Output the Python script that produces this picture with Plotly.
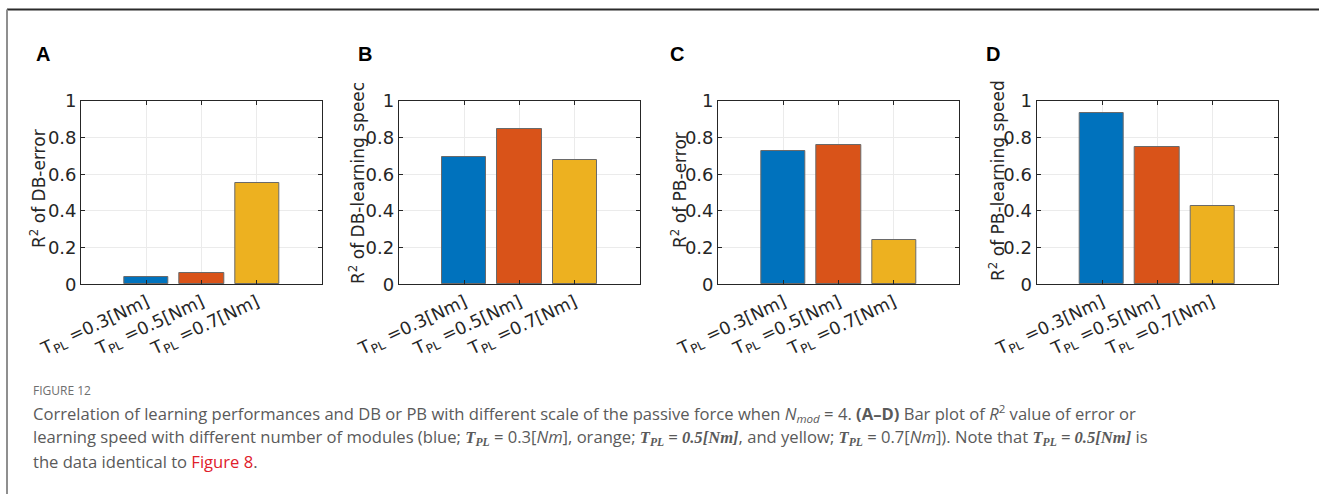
import plotly.graph_objects as go

W, H = 1319, 494

# ---------------- data ----------------
categories = ["T<sub>PL</sub> =0.3[Nm]", "T<sub>PL</sub> =0.5[Nm]", "T<sub>PL</sub> =0.7[Nm]"]
cat_pos = [1, 2, 3]
db_error = [0.040, 0.062, 0.555]
db_speed = [0.695, 0.847, 0.679]
pb_error = [0.726, 0.761, 0.241]
pb_speed = [0.936, 0.748, 0.427]
bar_colors = ["#0072BD", "#D95319", "#EDB120"]
y_ticks = [0, 0.2, 0.4, 0.6, 0.8, 1]
y_ticktext = ["0", "0.2", "0.4", "0.6", "0.8", "1"]
panel_letters = ["A", "B", "C", "D"]
y_titles = ["R<sup>2</sup> of DB-error", "R<sup>2</sup> of DB-learning speec",
            "R<sup>2</sup> of PB-error", "R<sup>2</sup> of PB-learning speed"]
series = [db_error, db_speed, pb_error, pb_speed]


def px(x):
    return x / W


def py(y):
    return 1 - y / H


# panel geometry (pixels)
left_px = [81.3, 399.0, 718.3, 1036.7]
plot_w = 241.0
top_px, bottom_px = 101.0, 284.3
ytitle_x = [38, 357, 679, 997]
ytitle_y = [189, 183, 190, 181]
letter_x = [34, 356, 668, 984]

fig = go.Figure()
AX = "#262626"
tick_font = dict(family="DejaVu Sans", size=18, color=AX)

for i in range(4):
    xa = "x" if i == 0 else f"x{i+1}"
    ya = "y" if i == 0 else f"y{i+1}"
    fig.add_trace(go.Bar(
        x=cat_pos, y=series[i], width=0.8,
        marker=dict(color=bar_colors, line=dict(color="#6a6a6a", width=1)),
        xaxis=xa, yaxis=ya, showlegend=False, hoverinfo="y",
    ))
    xkey = "xaxis" if i == 0 else f"xaxis{i+1}"
    ykey = "yaxis" if i == 0 else f"yaxis{i+1}"
    fig.update_layout({
        xkey: dict(
            domain=[px(left_px[i]), px(left_px[i] + plot_w)],
            anchor=ya, range=[1 - 1.19, 3 + 1.19],
            tickvals=cat_pos, ticktext=categories, tickangle=-25,
            tickfont=dict(family="DejaVu Sans", size=17.5, color=AX),
            ticks="inside", ticklen=4, tickcolor=AX,
            showline=True, linecolor=AX, linewidth=1.3, mirror="ticks",
            showgrid=True, gridcolor="#ebebeb", gridwidth=1, zeroline=False,
            fixedrange=True, automargin=False,
        ),
        ykey: dict(
            domain=[py(bottom_px), py(top_px)],
            anchor=xa, range=[0, 1],
            tickvals=y_ticks, ticktext=y_ticktext, tickfont=tick_font,
            ticks="inside", ticklen=4, tickcolor=AX,
            showline=True, linecolor=AX, linewidth=1.3, mirror="ticks",
            showgrid=True, gridcolor="#ebebeb", gridwidth=1, zeroline=False,
            fixedrange=True, automargin=False,
        ),
    })

annotations = []
for i in range(4):
    annotations.append(dict(
        text=y_titles[i], textangle=-90, x=px(ytitle_x[i]), y=py(ytitle_y[i]),
        xref="paper", yref="paper", xanchor="center", yanchor="middle",
        showarrow=False, font=dict(family="DejaVu Sans", size=17, color=AX),
    ))
    annotations.append(dict(
        text="<b>" + panel_letters[i] + "</b>", x=px(letter_x[i]), y=py(41),
        xref="paper", yref="paper", xanchor="left", yanchor="top",
        showarrow=False, font=dict(family="Liberation Sans", size=20, color="#000000"),
    ))

cap_font = dict(family="Open Sans", size=16.6, color="#5a5a5a")
serif_b = '<span style="font-family:Liberation Serif"><b><i>T<sub>PL</sub> = 0.5[Nm]</i></b></span>'
serif_t = '<span style="font-family:Liberation Serif"><b><i>T<sub>PL</sub></i></b></span>'
caption_lines = [
    "Correlation of learning performances and DB or PB with different scale of the passive force when "
    "<i>N<sub>mod</sub></i> = 4. <b>(A–D)</b> Bar plot of <i>R</i><sup>2</sup> value of error or",
    "learning speed with different number of modules (blue; " + serif_t + " = 0.3[<i>Nm</i>], orange; "
    + serif_b + ", and yellow; " + serif_t + " = 0.7[<i>Nm</i>]). Note that " + serif_b + " is",
    'the data identical to <span style="color:#e0202a">Figure 8</span>.',
]
caption_y = [413, 437, 461]
annotations.append(dict(
    text="FIGURE 12", x=px(31), y=py(390), xref="paper", yref="paper",
    xanchor="left", yanchor="middle", showarrow=False,
    font=dict(family="Open Sans", size=12, color="#6e6e6e"),
))
for line, yy in zip(caption_lines, caption_y):
    annotations.append(dict(
        text=line, x=px(31), y=py(yy), xref="paper", yref="paper",
        xanchor="left", yanchor="middle", showarrow=False, font=cap_font,
    ))

shapes = [
    dict(type="line", xref="paper", yref="paper", x0=px(7), x1=1, y0=py(9.5), y1=py(9.5),
         line=dict(color="#2b2b2b", width=2)),
    dict(type="line", xref="paper", yref="paper", x0=px(7), x1=px(7), y0=py(9.5), y1=0,
         line=dict(color="#8f8f8f", width=2)),
]

fig.update_layout(
    width=W, height=H, margin=dict(l=0, r=0, t=0, b=0, pad=0, autoexpand=False),
    paper_bgcolor="white", plot_bgcolor="white",
    annotations=annotations, shapes=shapes, bargap=0,
)

fig.write_html("out.html")
